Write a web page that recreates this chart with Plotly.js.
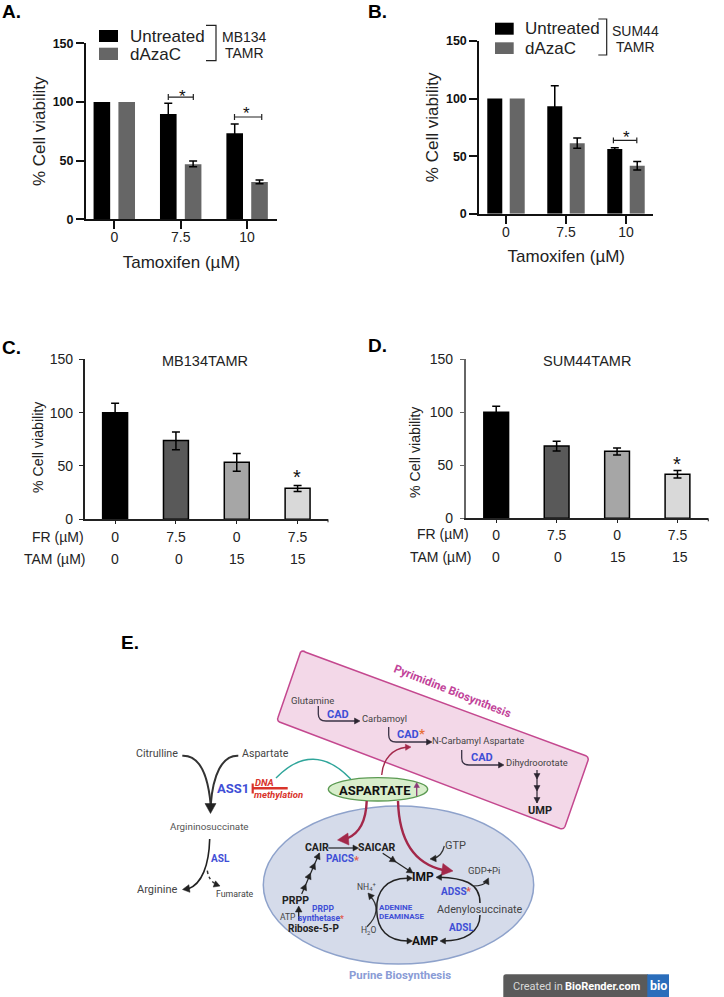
<!DOCTYPE html>
<html><head><meta charset="utf-8">
<script src="https://cdn.plot.ly/plotly-3.0.1.min.js"></script>
<style>html,body{margin:0;padding:0;background:#fff}</style></head>
<body><div id="plot" style="width:724px;height:997px"></div>
<script>
// ---------- chart data ----------
const groupsAB = ['0', '7.5', '10'];
const seriesNames = ['Untreated', 'dAzaC'];
const aUntreated = [100, 89.7, 73.3];
const aUntreatedUp = [null, 9.2, 7.9];
const aUntreatedDown = [null, 9.2, 7.9];
const aDazac = [100, 46.9, 31.8];
const aDazacUp = [null, 2.8, 1.7];
const aDazacDown = [null, 2.2, 1.5];
const bUntreated = [100, 93.3, 56.2];
const bUntreatedUp = [null, 17.9, 1.1];
const bUntreatedDown = [null, 17.9, 1.1];
const bDazac = [100, 61.1, 41.7];
const bDazacUp = [null, 4.6, 3.7];
const bDazacDown = [null, 4.3, 3.7];
const frLabels = ['0', '7.5', '0', '7.5'];
const tamLabels = ['0', '0', '15', '15'];
const cValues = [100, 73.8, 53.4, 29];
const cUp = [8.7, 8.1, 8.2, 2.6];
const cDown = [8.7, 8.7, 8.4, 3];
const dValues = [100, 68.2, 63.2, 41.5];
const dUp = [5.6, 4.4, 3.2, 3.5];
const dDown = [5.6, 4.7, 3.5, 3.5];
const fourGreys = ['#000000', '#595959', '#a6a6a6', '#d9d9d9'];
const yTicks = [0, 50, 100, 150];

const SANS = 'Liberation Sans, Arial, sans-serif';
const BIO = 'Roboto, sans-serif';
const W = 724, H = 997;
const xd = (a, b) => [a / W, b / W];
const yd = (top, bottom) => [1 - bottom / H, 1 - top / H];

// A value without an error entry is drawn as a bar with no whisker at all.
function bars(y, up, down, color, offset, width, xa, ya, outline) {
  const all = y.map((_, i) => i);
  const withErr = all.filter(i => up[i] !== null);
  const noErr = all.filter(i => up[i] === null);
  const pick = (arr, idx) => idx.map(i => arr[i]);
  const colorOf = idx => Array.isArray(color) ? pick(color, idx) : color;
  const out = [];
  if (noErr.length) out.push({ type: 'bar', x: noErr, y: pick(y, noErr), width, offset, xaxis: xa, yaxis: ya,
    marker: { color: colorOf(noErr), line: { color: '#000', width: outline } } });
  out.push({ type: 'bar', x: withErr, y: pick(y, withErr), width, offset, xaxis: xa, yaxis: ya,
    marker: { color: colorOf(withErr), line: { color: '#000', width: outline } },
    error_y: { type: 'data', symmetric: false, array: pick(up, withErr), arrayminus: pick(down, withErr), color: '#000', thickness: 1.5, width: 4 } });
  return out;
}
function bracket(x0, x1, y, dy, xa, ya) {
  return { type: 'scatter', mode: 'lines', xaxis: xa, yaxis: ya, hoverinfo: 'skip',
    x: [x0, x0, null, x0, x1, null, x1, x1], y: [y - dy, y + dy, null, y, y, null, y - dy, y + dy],
    line: { color: '#222', width: 1.2 } };
}
const traces = [].concat(
  bars(aUntreated, aUntreatedUp, aUntreatedDown, '#000', -0.312, 0.25, 'x', 'y', 0),
  bars(aDazac, aDazacUp, aDazacDown, '#666666', 0.062, 0.25, 'x', 'y', 0),
  bars(bUntreated, bUntreatedUp, bUntreatedDown, '#000', -0.312, 0.25, 'x2', 'y2', 0),
  bars(bDazac, bDazacUp, bDazacDown, '#666666', 0.062, 0.25, 'x2', 'y2', 0),
  bars(cValues, cUp, cDown, fourGreys, -0.205, 0.41, 'x3', 'y3', 1.5),
  bars(dValues, dUp, dDown, fourGreys, -0.205, 0.41, 'x4', 'y4', 1.5),
  [bracket(0.813, 1.19, 104.2, 2.5, 'x', 'y'),
   bracket(1.81, 2.22, 87.2, 2.5, 'x', 'y'),
   bracket(1.79, 2.18, 63.7, 2.5, 'x2', 'y2'),
   { type: 'scatter', mode: 'markers', x: [0], y: [0], xaxis: 'x5', yaxis: 'y5', marker: { opacity: 0, size: 1 }, hoverinfo: 'skip' }]
);

function axesAB(dx, dy, xr, anchorX, anchorY, tickSize) {
  return {
    x: { domain: dx, range: xr, anchor: anchorY, tickmode: 'array', tickvals: [0, 1, 2], ticktext: groupsAB,
      showgrid: false, zeroline: false, showline: true, linecolor: '#111', linewidth: 2,
      ticks: 'outside', ticklen: 8, tickwidth: 2, tickcolor: '#111', fixedrange: true, ticklabelstandoff: -4,
      tickfont: { family: SANS, size: 14, color: '#222' },
      title: { text: 'Tamoxifen (\u00b5M)', font: { family: SANS, size: 17, color: '#222' }, standoff: 12 } },
    y: { domain: dy, range: [0, 150], anchor: anchorX, tickmode: 'array', tickvals: yTicks,
      showgrid: false, zeroline: false, showline: true, linecolor: '#111', linewidth: 2,
      ticks: 'outside', ticklen: 8, tickwidth: 2, tickcolor: '#111', fixedrange: true,
      tickfont: { family: SANS + '', size: tickSize, color: '#111', weight: 700 },
      title: { text: '% Cell viability', font: { family: SANS, size: 17, color: '#222' }, standoff: 3 } }
  };
}
function axesCD(dx, dy, xr, anchorX, anchorY, lineColor, xOff, yOff) {
  return {
    x: { domain: dx, range: xr, anchor: anchorY, tickmode: 'array', tickvals: [0, 1, 2, 3], ticktext: frLabels,
      showgrid: false, zeroline: false, showline: true, linecolor: '#222', linewidth: 1.2,
      ticks: 'outside', ticklen: 3, tickwidth: 1, tickcolor: '#222', fixedrange: true, ticklabelstandoff: xOff,
      tickfont: { family: SANS, size: 14, color: '#222' } },
    y: { domain: dy, range: [0, 150], anchor: anchorX, tickmode: 'array', tickvals: yTicks,
      showgrid: false, zeroline: false, showline: true, linecolor: lineColor, linewidth: 1.4,
      ticks: 'outside', ticklen: 4.5, tickwidth: 1, tickcolor: lineColor, fixedrange: true, ticklabelstandoff: yOff,
      tickfont: { family: SANS, size: 14, color: '#222' } }
  };
}
const A = axesAB(xd(86, 277), yd(43.3, 219.3), [-0.426, 2.45], 'x', 'y', 12.5);
const B = axesAB(xd(479.3, 653.3), yd(41, 213.7), [-0.445, 2.455], 'x2', 'y2', 12.5);
const C = axesCD(xd(84.7, 328), yd(359.3, 519.3), [-0.5, 3.5], 'x3', 'y3', '#222', 2, 3);
const D = axesCD(xd(465.7, 708.3), yd(359.3, 518.3), [-0.505, 3.51], 'x4', 'y4', '#666', 1, 4);

// ---------- pixel-space helpers for legends, labels and the pathway diagram ----------
const OV = { xref: 'x5', yref: 'y5' };
function T(text, x, y, size, color, o) {
  o = o || {};
  return Object.assign({}, OV, { text, x, y, showarrow: false, xanchor: o.anchor || 'center', yanchor: 'middle',
    textangle: o.angle || 0, borderpad: 0,
    font: { family: o.family || BIO, size, color, weight: o.bold ? 700 : 400, style: o.italic ? 'italic' : 'normal' } });
}
function stroke(path, color, width, dash) {
  return Object.assign({}, OV, { type: 'path', path, layer: 'above', fillcolor: 'rgba(0,0,0,0)', line: { color, width, dash: dash || 'solid' } });
}
function head(tx, ty, deg, size, color) {
  const a = deg * Math.PI / 180, s = size, w = size * 0.55;
  const bx = tx - s * Math.cos(a), by = ty - s * Math.sin(a);
  const nx = -Math.sin(a) * w, ny = Math.cos(a) * w;
  return Object.assign({}, OV, { type: 'path', layer: 'above', fillcolor: color, line: { color, width: 0.5 },
    path: `M ${tx} ${ty} L ${bx + nx} ${by + ny} L ${bx - nx} ${by - ny} Z` });
}
function box(x0, y0, x1, y1, color) {
  return Object.assign({}, OV, { type: 'rect', x0, y0, x1, y1, layer: 'above', fillcolor: color, line: { width: 0 } });
}
const INK = '#2f2f36', BLUE = '#3f4fd6', RED = '#a3284a', STAR = '#e2574c';

const shapes = [
  // right-hand end ticks of the Excel-style axes
  stroke('M 328 519.3 L 328 522.3', '#222', 1), stroke('M 708.3 518.3 L 708.3 521.3', '#222', 1),
  // legends
  box(99, 30, 118, 42, '#000'), box(99, 47.7, 118, 60, '#666666'),
  stroke('M 206 25.3 L 216 25.3 L 216 60.7 L 206 60.7', '#222', 1.2),
  box(495, 22.7, 513.7, 34.7, '#000'), box(495, 42.3, 513.7, 54, '#666666'),
  stroke('M 598.3 19 L 606.7 19 L 606.7 55 L 598.3 55', '#222', 1.2),
  // pyrimidine box
  Object.assign({}, OV, { type: 'path', layer: 'above', fillcolor: '#f3d8e8', line: { color: '#c4488f', width: 1.5 },
    path: 'M 300.5 652.2 Q 302.7 650 305.7 652.3 L 585.8 755.7 Q 589 757.5 588 760.5 L 565 826.5 Q 563.5 829.7 560 828.5 L 279.5 722 Q 276.8 720.5 278 717.5 Z' }),
  // purine ellipse
  Object.assign({}, OV, { type: 'circle', layer: 'above', x0: 263.3, x1: 533.7, y0: 806, y1: 964, fillcolor: '#d5dbea', line: { color: '#8ea2cb', width: 1.5 } }),
  // aspartate ellipse
  Object.assign({}, OV, { type: 'circle', layer: 'above', x0: 328.3, x1: 427.7, y0: 777.7, y1: 801, fillcolor: '#d8eecb', line: { color: '#5b9a52', width: 1.3 } }),
  stroke('M 416.7 796 L 416.7 786', '#8a3a78', 1.3), head(416.7, 782.5, -90, 5, '#8a3a78'),
  // teal link
  stroke('M 276 778 Q 313 740 350.7 779', '#2fa59a', 1.4),
  // inhibition
  stroke('M 252.7 783.5 L 252.7 793.5', '#d9342b', 2.2),
  stroke('M 252.7 788.3 L 287.7 788.3', '#d9342b', 2.6),
  // ASS1 funnel
  stroke('M 182.3 755.7 C 200 755 208 775 210.7 805', '#333', 2),
  stroke('M 238.3 755.7 C 222 755 213 775 210.7 805', '#333', 2),
  head(210.5, 813.5, 90, 10, '#222'),
  // ASL
  stroke('M 209.7 839 C 209 865 202 884 188 889', '#222', 1.6),
  head(182.5, 889.5, 172, 7, '#222'),
  stroke('M 207.3 870.7 Q 209 881 216 884', '#333', 1.5, 'dot'),
  head(220, 886, 20, 6, '#222'),
  // pyrimidine pathway
  stroke('M 318.3 706 L 318.3 714 Q 318.3 721 326 721 L 356 721', '#3b3346', 1.3), head(360, 721, 0, 5.5, '#2b2530'),
  stroke('M 388.7 727 L 388.7 735 Q 388.7 742 396 742 L 428 742', '#3b3346', 1.3), head(432, 742, 0, 5.5, '#2b2530'),
  stroke('M 461.7 750 L 461.7 758 Q 461.7 765 469 765 L 500 765', '#3b3346', 1.3), head(504, 765, 0, 5.5, '#2b2530'),
  stroke('M 537 770 L 537 803', '#2b2530', 1.2),
  head(537, 779, 90, 5.5, '#2b2530'), head(537, 791, 90, 5.5, '#2b2530'), head(537, 803, 90, 5.5, '#2b2530'),
  // aspartate outflows
  stroke('M 381.7 775 C 383 758 393 749 406 747.3', RED, 1.4), head(411, 747, -3, 5.5, RED),
  stroke('M 366.7 801 C 366 822 358 834 347 838.5', RED, 2.4), head(337.5, 840, 175, 11, RED),
  stroke('M 398 801 C 399 838 412 863 443 870', RED, 2.4), head(453, 871, 8, 11, RED),
  // purine pathway
  stroke('M 328.3 848 L 355 848', '#222', 1.2), head(358.5, 848, 0, 5.5, '#222'),
  stroke('M 301.7 894 L 319.3 853.3', '#222', 1.2),
  head(306, 884, -66, 6, '#222'), head(310.5, 873, -66, 6, '#222'), head(315, 863, -66, 6, '#222'), head(319.5, 853, -66, 6, '#222'),
  stroke('M 298.7 920.7 L 298.7 909', '#222', 1.3), head(298.7, 906, -90, 6, '#222'),
  stroke('M 367 926.7 C 378 916 379 905 370 896', '#333', 1.3), head(368, 893, -130, 6, '#222'),
  stroke('M 408 878.3 C 386 878 376 892 376.7 910 C 377 930 388 941 408 941', '#222', 1.5),
  head(412.5, 878.3, 0, 5.5, '#222'), head(412.5, 941, 0, 5.5, '#222'),
  stroke('M 382.7 853.3 L 412.3 872.7', '#222', 1.2), head(396, 862, 33, 6, '#222'), head(413, 873, 33, 6, '#222'),
  stroke('M 444.3 846 C 443 852 440 857 433 858.5', '#333', 1.2), head(430, 859, 175, 6, '#222'),
  stroke('M 439 877.3 C 462 878 480 882 480 903', '#222', 1.5), head(436, 877.3, 180, 5.5, '#222'),
  stroke('M 480 915 C 480 932 465 941 443 941', '#222', 1.5), head(440, 941, 180, 5.5, '#222'),
  stroke('M 473.3 886 C 480 886 485 884 487 881', '#222', 1.2), head(488.5, 878, -65, 6, '#222'),
  // badge
  Object.assign({}, OV, { type: 'path', layer: 'above', fillcolor: '#5a5a5a', line: { width: 0 },
    path: 'M 503.3 997 L 503.3 977 Q 503.3 974.3 506 974.3 L 648 974.3 L 648 997 Z' }),
  box(647.3, 974.3, 669, 997, '#2a6dbb')
];

const annotations = [
  // panel letters
  T('A.', 0.5, 11, 19, '#000', { family: SANS, bold: true, anchor: 'left' }),
  T('B.', 367, 11, 19, '#000', { family: SANS, bold: true, anchor: 'left' }),
  T('C.', 1, 347, 19, '#000', { family: SANS, bold: true, anchor: 'left' }),
  T('D.', 367, 345, 19, '#000', { family: SANS, bold: true, anchor: 'left' }),
  T('E.', 120, 642, 19, '#000', { family: SANS, bold: true, anchor: 'left' }),
  // legends
  T(seriesNames[0], 129, 36, 17, '#222', { family: SANS, anchor: 'left' }),
  T(seriesNames[1], 129, 54, 17, '#222', { family: SANS, anchor: 'left' }),
  T('MB134', 244, 36.7, 14, '#222', { family: SANS }),
  T('TAMR', 244, 52.7, 14, '#222', { family: SANS }),
  T(seriesNames[0], 524.3, 28.7, 17, '#222', { family: SANS, anchor: 'left' }),
  T(seriesNames[1], 524.3, 48, 17, '#222', { family: SANS, anchor: 'left' }),
  T('SUM44', 635, 30.7, 14, '#222', { family: SANS }),
  T('TAMR', 635.3, 47.3, 14, '#222', { family: SANS }),
  // stars
  T('*', 182, 96, 17, '#111', { family: SANS }),
  T('*', 246.5, 113, 17, '#111', { family: SANS }),
  T('*', 626.3, 137, 17, '#111', { family: SANS }),
  T('*', 296.7, 477, 20, '#111', { family: SANS }),
  T('*', 676.7, 464, 20, '#111', { family: SANS }),
  // panel C / D titles and row labels
  T('MB134TAMR', 205, 361, 14.5, '#222', { family: SANS }),
  T('SUM44TAMR', 586.5, 360.5, 14.5, '#222', { family: SANS }),
  T('% Cell viability', 38, 447, 14.2, '#222', { family: SANS, angle: -90 }),
  T('% Cell viability', 415, 452, 14.2, '#222', { family: SANS, angle: -90 }),
  T('FR (\u00b5M)', 84.7, 537, 14, '#222', { family: SANS, anchor: 'right' }),
  T('TAM (\u00b5M)', 85.7, 559, 14, '#222', { family: SANS, anchor: 'right' }),
  T('FR (\u00b5M)', 470, 534, 14, '#222', { family: SANS, anchor: 'right' }),
  T('TAM (\u00b5M)', 472, 556.7, 14, '#222', { family: SANS, anchor: 'right' }),
  T(tamLabels[0], 115, 559, 14, '#222', { family: SANS }),
  T(tamLabels[1], 179, 559, 14, '#222', { family: SANS }),
  T(tamLabels[2], 236.7, 559, 14, '#222', { family: SANS }),
  T(tamLabels[3], 298, 559, 14, '#222', { family: SANS }),
  T(tamLabels[0], 496, 556.7, 14, '#222', { family: SANS }),
  T(tamLabels[1], 557.7, 556.7, 14, '#222', { family: SANS }),
  T(tamLabels[2], 618.3, 556.7, 14, '#222', { family: SANS }),
  T(tamLabels[3], 680, 556.7, 14, '#222', { family: SANS }),
  // arginine branch
  T('Citrulline', 157, 753, 10.7, '#444'),
  T('Aspartate', 265.7, 753, 10.6, '#444'),
  T('ASS1', 232.5, 788, 13, BLUE, { bold: true }),
  T('DNA', 264, 782, 9.5, '#d9342b', { bold: true, italic: true }),
  T('methylation', 278, 794, 9.5, '#d9342b', { bold: true, italic: true }),
  T('Argininosuccinate', 209, 826.7, 9.8, '#555'),
  T('ASL', 220, 858, 10, BLUE, { bold: true }),
  T('Arginine', 156.7, 889.3, 11, '#444'),
  T('Fumarate', 235, 893.5, 8.8, '#444'),
  // pyrimidine
  T('Pyrimidine Biosynthesis', 452.5, 691, 11.5, '#c2449a', { bold: true, angle: 21.6 }),
  T('Glutamine', 312.7, 700, 9.5, '#444'),
  T('CAD', 338.3, 714.3, 11, BLUE, { bold: true }),
  T('Carbamoyl', 384, 718.3, 9.4, '#444'),
  T('CAD', 407.7, 734.3, 11, BLUE, { bold: true }),
  T('*', 421.7, 733, 13, '#e8703a', { bold: true }),
  T('N-Carbamyl Aspartate', 478.3, 740.3, 9.4, '#444'),
  T('CAD', 481.7, 757.7, 11, BLUE, { bold: true }),
  T('Dihydroorotate', 536.7, 762.7, 9.4, '#444'),
  T('UMP', 539.7, 810, 11, '#222', { bold: true }),
  // aspartate node
  T('ASPARTATE', 375, 790, 13, '#111', { bold: true }),
  // purine
  T('CAIR', 316.7, 847.7, 10.5, '#222', { bold: true }),
  T('SAICAR', 376.7, 847.3, 10.5, '#222', { bold: true }),
  T('PAICS', 340, 858.7, 10, BLUE, { bold: true }),
  T('*', 356.7, 860, 11, STAR, { bold: true }),
  T('PRPP', 295.7, 900.3, 10.5, '#222', { bold: true }),
  T('PRPP', 322.7, 909.3, 8.5, BLUE, { bold: true }),
  T('synthetase', 319, 917.7, 8.5, BLUE, { bold: true }),
  T('*', 342, 919, 8.5, STAR, { bold: true }),
  T('ATP', 287.7, 916.7, 8.5, '#444'),
  T('Ribose-5-P', 313.7, 928.7, 10, '#222', { bold: true }),
  T('NH<sub>4</sub><sup>+</sup>', 366.7, 886, 8.5, '#444'),
  T('H<sub>2</sub>O', 368.3, 930.3, 8.5, '#444'),
  T('ADENINE', 395.7, 907.7, 8, BLUE, { bold: true }),
  T('DEAMINASE', 401, 916.3, 8, BLUE, { bold: true }),
  T('IMP', 423.3, 876.7, 12, '#111', { bold: true }),
  T('AMP', 425.7, 940.7, 12, '#111', { bold: true }),
  T('GTP', 455, 845.3, 11, '#444'),
  T('GDP+Pi', 484, 870, 9.5, '#444'),
  T('ADSS', 454.3, 891, 10, BLUE, { bold: true }),
  T('*', 468.3, 891, 11, STAR, { bold: true }),
  T('Adenylosuccinate', 480, 909, 10.8, '#444'),
  T('ADSL', 461, 927.7, 10, BLUE, { bold: true }),
  T('Purine Biosynthesis', 399.7, 975, 11.4, '#8a9cd6', { bold: true }),
  // badge
  T('Created in', 512.3, 986.7, 11, '#d8d8d8', { anchor: 'left' }),
  T('BioRender.com', 564, 986.7, 11, '#fff', { anchor: 'left', bold: true }),
  T('bio', 658, 985.7, 12.5, '#fff', { bold: true })
];

const layout = {
  width: W, height: H, margin: { l: 0, r: 0, t: 0, b: 0, pad: 0 }, autosize: false,
  paper_bgcolor: '#fff', plot_bgcolor: 'rgba(0,0,0,0)', showlegend: false, barmode: 'overlay', hovermode: false,
  font: { family: SANS },
  xaxis: A.x, yaxis: A.y, xaxis2: B.x, yaxis2: B.y, xaxis3: C.x, yaxis3: C.y, xaxis4: D.x, yaxis4: D.y,
  xaxis5: { domain: [0, 1], range: [0, W], visible: false, anchor: 'y5', fixedrange: true },
  yaxis5: { domain: [0, 1], range: [H, 0], visible: false, anchor: 'x5', fixedrange: true },
  shapes, annotations
};
Plotly.newPlot('plot', traces, layout, { displayModeBar: false, staticPlot: true });
</script></body></html>
